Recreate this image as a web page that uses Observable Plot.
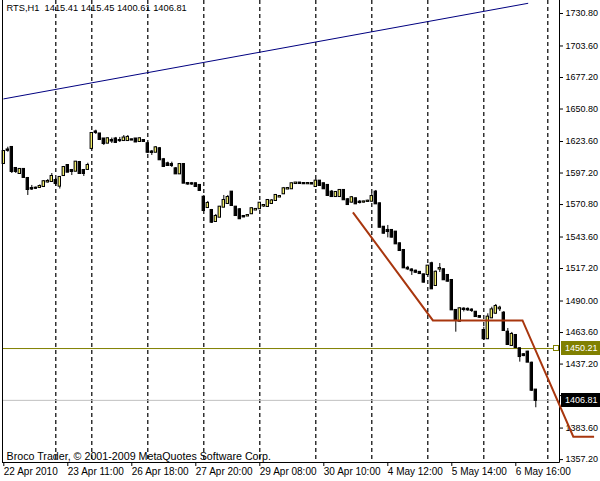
<!DOCTYPE html>
<html><head><meta charset="utf-8">
<script src="https://cdn.jsdelivr.net/npm/d3@7"></script>
<script src="https://cdn.jsdelivr.net/npm/@observablehq/plot@0.6"></script>
<style>
html,body{margin:0;padding:0;background:#fff;}
#chart svg{display:block;}
</style></head><body><div id="chart"></div>
<script>
// ---- data (RTS, H1) ----
const opens = [1605.2,1616.5,1618.6,1601.0,1596.8,1600.2,1592.6,1584.2,1584.5,1585.1,
1585.9,1589.7,1590.1,1590.9,1586.2,1595.1,1603.5,1599.3,1598.7,1606.0,
1599.3,1600.2,1617.8,1631.6,1629.9,1625.7,1622.2,1624.4,1625.7,1624.4,
1624.4,1624.4,1625.0,1625.7,1623.6,1624.4,1621.7,1614.8,1614.6,1617.5,
1608.3,1604.9,1604.3,1600.7,1596.5,1604.3,1588.4,1588.2,1588.2,1586.8,
1576.9,1568.3,1565.8,1556.6,1560.2,1568.6,1571.7,1581.2,1568.6,1566.4,
1560.8,1561.2,1563.1,1566.2,1567.3,1569.6,1569.2,1571.7,1574.2,1577.1,
1579.8,1583.8,1584.0,1588.4,1588.8,1588.4,1588.2,1588.4,1585.9,1590.4,
1588.2,1586.8,1581.2,1577.5,1577.5,1582.6,1574.8,1572.8,1575.6,1572.8,
1572.8,1573.4,1573.6,1581.2,1571.4,1551.8,1549.1,1549.1,1547.7,1537.9,
1532.3,1517.4,1516.0,1515.0,1514.0,1511.9,1512.2,1521.2,1503.0,1516.8,
1516.2,1511.4,1507.2,1482.1,1473.1,1483.2,1483.0,1482.4,1480.6,1477.0,
1465.3,1458.4,1475.9,1479.8,1483.5,1479.8,1463.9,1452.8,1461.1,1450.0,
1445.0,1447.2,1437.9,1415.41];
const highs = [1616.1,1618.8,1619.4,1601.8,1601.0,1601.0,1593.5,1586.8,1585.5,1587.2,
1590.9,1591.8,1596.8,1592.6,1594.3,1602.7,1604.3,1600.2,1606.9,1606.9,
1600.2,1605.4,1631.1,1633.1,1630.3,1626.1,1626.5,1626.5,1627.0,1627.0,
1628.6,1628.6,1625.5,1626.1,1626.5,1624.6,1622.8,1616.1,1619.4,1618.6,
1609.4,1606.3,1606.3,1601.8,1605.2,1605.2,1589.3,1589.3,1588.8,1587.6,
1578.4,1573.4,1566.7,1562.5,1569.2,1578.4,1578.4,1581.7,1569.2,1567.5,
1561.6,1562.0,1567.9,1567.1,1572.5,1570.8,1575.0,1575.0,1579.2,1578.4,
1585.1,1585.1,1588.8,1589.3,1589.3,1589.0,1589.0,1589.0,1591.8,1590.9,
1588.8,1587.6,1582.6,1581.7,1583.4,1583.4,1575.9,1577.5,1576.3,1574.2,
1573.6,1574.4,1580.1,1582.6,1572.1,1552.4,1553.3,1549.9,1548.2,1538.6,
1533.2,1519.0,1517.0,1515.8,1514.7,1512.6,1519.8,1522.5,1515.1,1521.4,
1516.8,1512.2,1508.0,1482.9,1484.2,1484.4,1484.2,1483.5,1481.2,1477.5,
1468.1,1479.3,1484.8,1487.1,1485.6,1481.2,1467.0,1463.7,1462.0,1450.7,
1446.0,1447.9,1438.8,1415.45];
const lows = [1604.3,1614.6,1596.8,1596.8,1596.0,1592.6,1578.4,1582.6,1583.4,1584.2,
1585.1,1588.8,1589.3,1585.9,1583.8,1594.3,1597.6,1595.1,1598.5,1596.0,
1594.3,1599.3,1616.9,1629.5,1624.4,1620.3,1621.9,1621.9,1621.9,1622.8,
1623.6,1624.0,1624.4,1622.8,1623.2,1623.2,1613.5,1611.9,1614.4,1607.7,
1601.8,1602.7,1601.8,1596.0,1596.0,1588.4,1586.8,1586.8,1585.5,1581.7,
1565.0,1567.5,1554.9,1555.8,1560.0,1568.3,1570.8,1569.2,1560.8,1558.3,
1560.0,1560.8,1562.5,1565.8,1566.7,1568.3,1568.8,1570.8,1573.4,1576.7,
1579.2,1583.4,1583.4,1588.0,1588.0,1587.6,1587.6,1587.6,1585.1,1585.9,
1583.4,1577.5,1576.7,1576.7,1576.7,1574.2,1570.0,1572.1,1570.8,1571.3,
1572.1,1572.9,1572.9,1570.8,1551.2,1546.1,1542.9,1542.8,1537.3,1531.5,
1517.2,1515.5,1511.4,1513.0,1512.4,1505.1,1511.4,1499.7,1502.2,1513.9,
1507.2,1505.9,1482.1,1463.9,1472.4,1480.9,1481.3,1480.4,1476.6,1475.7,
1456.9,1457.8,1475.4,1479.1,1481.2,1464.5,1452.8,1451.9,1450.2,1438.8,
1443.4,1438.5,1414.2,1400.61];
const closes = [1615.2,1616.2,1598.5,1598.5,1600.2,1593.5,1583.4,1583.8,1584.4,1585.9,
1589.9,1590.1,1594.3,1588.4,1593.5,1601.8,1597.9,1598.5,1606.3,1596.8,
1596.8,1603.5,1630.3,1631.1,1625.3,1621.9,1625.9,1624.0,1622.8,1624.3,
1626.5,1627.0,1624.8,1623.2,1625.9,1623.6,1614.6,1614.4,1618.3,1608.3,
1602.7,1603.5,1603.5,1596.5,1604.3,1588.7,1588.0,1588.0,1585.9,1582.6,
1565.8,1571.7,1556.0,1560.8,1568.6,1574.2,1576.7,1570.0,1561.6,1558.9,
1560.4,1561.6,1567.3,1566.7,1571.9,1570.0,1574.2,1573.8,1578.4,1577.5,
1584.0,1584.2,1588.2,1588.8,1588.4,1588.2,1588.4,1588.0,1590.4,1586.8,
1584.0,1578.4,1577.5,1580.9,1582.6,1574.8,1570.8,1576.5,1571.4,1572.5,
1573.0,1573.6,1577.5,1571.4,1551.8,1546.8,1548.2,1543.5,1537.9,1532.3,
1517.8,1516.9,1515.4,1514.1,1513.0,1505.8,1519.2,1500.2,1514.1,1517.2,
1507.8,1506.6,1482.6,1473.7,1483.5,1482.9,1482.6,1482.1,1477.0,1476.4,
1458.4,1476.5,1482.6,1485.4,1484.0,1465.3,1453.6,1462.0,1451.1,1443.5,
1444.3,1438.8,1415.3,1406.81];

const separatorBars = [13,22,36,50,64,78,92,106,120,136];
const xLabelBars = [0,16,32,48,64,80,96,112,128];
const xLabels = ["22 Apr 2010","23 Apr 11:00","26 Apr 18:00","27 Apr 20:00","29 Apr 08:00","30 Apr 10:00","4 May 12:00","5 May 14:00","6 May 16:00"];
const yTicks = [1730.80,1703.60,1677.20,1650.80,1623.60,1597.20,1570.80,1543.60,1517.20,1490.00,1463.60,1437.20,1410.80,1383.60,1357.20];
const hiddenTick = 1410.80; // covered by the bid-price tag in the reference

const trendBars = [0,131];
const trendPrices = [1659.3,1739.3];
const zigzagBars = [87.4,107.4,129.8,142.5,147.7];
const zigzagPrices = [1563.9,1473.3,1473.3,1376.0,1376.0];
const levelPrice = 1450.21;
const bidPrice = 1406.81;

const titleText = "RTS,H1\u00a0\u00a01415.41 1415.45 1400.61 1406.81";
const copyrightText = "Broco Trader, \u00a9 2001-2009 MetaQuotes Software Corp.";

// ---- build tables ----
const candles = opens.map((o,i)=>({bar:i, open:o, high:highs[i], low:lows[i], close:closes[i]}));
const trend = trendBars.map((b,i)=>({bar:b, price:trendPrices[i]}));
const zigzag = zigzagBars.map((b,i)=>({bar:b, price:zigzagPrices[i]}));
const labelByBar = new Map(xLabelBars.map((b,i)=>[b, xLabels[i]]));

const FONT = "'Liberation Sans', Arial, sans-serif";
const BULL = "#f2ee6a";

const plot = Plot.plot({
  width:600, height:481,
  marginLeft:2, marginRight:41, marginTop:0, marginBottom:19,
  style:{fontFamily:FONT, fontSize:"9px", background:"#fff", color:"#000", overflow:"visible"},
  x:{type:"linear", domain:[-0.325,138.925], axis:null},
  y:{domain:[1354.76,1741.69], axis:null},
  marks:[
    Plot.ruleX(separatorBars, {stroke:"#000", strokeWidth:1.2, strokeDasharray:"4,3"}),
    Plot.line(trend, {x:"bar", y:"price", stroke:"#000080", strokeWidth:1, clip:true}),
    Plot.ruleY([levelPrice], {stroke:"#808000", strokeWidth:1}),
    Plot.ruleY([bidPrice], {stroke:"#c0c0c0", strokeWidth:1}),
    Plot.ruleX(candles, {x:"bar", y1:"low", y2:"high", stroke:"#000", strokeWidth:1}),
    Plot.rect(candles, {x1:d=>d.bar-0.3, x2:d=>d.bar+0.3, y1:"open", y2:"close",
      fill:d=>d.close>d.open?BULL:"#000", stroke:"#000", strokeWidth:1, insetTop:-0.5, insetBottom:-0.5}),
    Plot.axisY(yTicks, {anchor:"right", label:null, tickSize:3, tickPadding:3,
      tickFormat:d=>d===hiddenTick?"":d.toFixed(2)}),
    Plot.axisX(xLabelBars, {anchor:"bottom", label:null, tickSize:4, tickPadding:1, fontSize:10,
      tickFormat:d=>labelByBar.get(d), textAnchor:"start"}),
    Plot.text([titleText], {frameAnchor:"top-left", dx:4, dy:4, lineAnchor:"top", textAnchor:"start", fill:"#000", fontSize:9.3}),
    Plot.text([copyrightText], {frameAnchor:"bottom-left", dx:4, dy:-3, lineAnchor:"bottom", textAnchor:"start", fill:"#000", fontSize:10.7})
  ]
});

document.getElementById("chart").appendChild(plot);

// frame lines, price tags and the zigzag line, positioned through the plot's own scales
const svg = d3.select(plot);
const xs = plot.scale("x"), ys = plot.scale("y");
const [xL, xR] = xs.range;
const [yB, yT] = ys.range;
const g = svg.append("g");
g.append("line").attr("x1", xL+0.5).attr("x2", xL+0.5).attr("y1", yT).attr("y2", yB).attr("stroke","#000");
g.append("line").attr("x1", xR+0.5).attr("x2", xR+0.5).attr("y1", yT).attr("y2", yB+0.5).attr("stroke","#000");
g.append("line").attr("x1", xL).attr("x2", xR+0.5).attr("y1", yB+0.5).attr("y2", yB+0.5).attr("stroke","#000");

const tags = [
  {price:levelPrice, bg:"#808000", fg:"#ffffff", marker:true},
  {price:bidPrice, bg:"#000000", fg:"#ffffff", marker:false}
];
tags.forEach(t=>{
  const y = Math.round(ys.apply(t.price));
  g.append("rect").attr("x", xR+2).attr("y", y-7).attr("width", 39).attr("height", 14).attr("fill", t.bg);
  g.append("text").attr("x", xR+6).attr("y", y).attr("dy","0.35em").attr("text-anchor","start")
    .attr("font-family", FONT).attr("font-size", 9).attr("fill", t.fg).text(t.price.toFixed(2));
  if (t.marker) {
    g.append("rect").attr("x", xR-5.5).attr("y", y-2.5).attr("width", 5).attr("height", 5)
      .attr("fill","#fff").attr("stroke", t.bg);
  }
});

// zigzag drawn last so it passes over the price tags as in the reference
const zz = d3.line().x(d=>xs.apply(d.bar)).y(d=>ys.apply(d.price));
g.append("path").attr("d", zz(zigzag)).attr("fill","none").attr("stroke","#a8360e").attr("stroke-width",2);
</script>
</body></html>
